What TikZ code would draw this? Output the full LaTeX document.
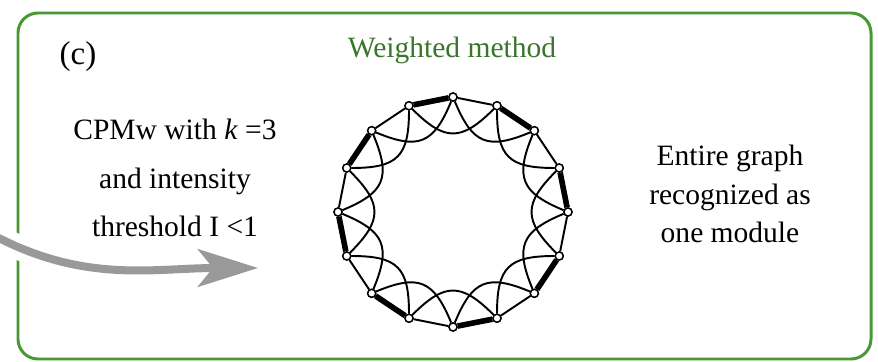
\documentclass[tikz,border=0pt]{standalone}
\usepackage{fontspec}
\setmainfont{Liberation Serif}
\usetikzlibrary{arrows.meta}
\definecolor{framegreen}{RGB}{72,152,52}
\definecolor{titlegreen}{RGB}{58,118,42}

\begin{document}
\begin{tikzpicture}[x=1cm,y=1cm]
  \tikzset{graphvertex/.style={circle,fill=white,draw=black,line width=0.8pt,inner sep=0pt,minimum size=0.16cm}}
  \tikzset{graphedge/.style={draw=black,line width=1.1pt}}
  \tikzset{heavyedge/.style={draw=black,line width=3.2pt}}
  \tikzset{arcedge/.style={draw=black,line width=1.1pt,bend right=45,looseness=1.45}}
  \tikzset{caption/.style={font=\fontsize{16.8}{20}\selectfont,inner sep=0pt,align=center}}

  \useasboundingbox (-9.06,-2.98) rectangle (8.50,4.24);
  \draw[framegreen,line width=1.7pt,rounded corners=0.4cm] (-8.70,-2.94) rectangle (8.36,3.98);

  % texts
  \node[caption,font=\fontsize{18.8}{22}\selectfont] (panel) at (-7.5,3.1) {(c)};
  \node[caption,text=titlegreen] (title) at (-0.02,3.24) {Weighted method};
  \node[caption,font=\fontsize{16.8}{27.8}\selectfont] (cpmw) at (-5.56,0.68) {CPMw with \textit{k} =3\\and intensity\\threshold I <1};
  \node[caption,font=\fontsize{16.8}{22.1}\selectfont] (result) at (5.54,0.36) {Entire graph\\recognized as\\one module};

  % arrow coming in from the left
  \coordinate (src) at (-9.2,-0.46);
  \coordinate (tip) at (-3.9,-1.12);
  \begin{scope}
    \clip (-9.06,-2.98) rectangle (-7.6,4.24);
    \draw[white,line width=0.5cm] (src) to[out=-28,in=180] (tip);
  \end{scope}
  \draw[gray!80,line width=0.16cm,-{Stealth[length=1.2cm,width=0.75cm,inset=0.3cm]}] (src) to[out=-28,in=180] (tip);

  % ring of sixteen vertices
  \node[graphvertex] (v1) at (90:2.3) {};
  \node[graphvertex] (v2) at (67.5:2.3) {};
  \node[graphvertex] (v3) at (45:2.3) {};
  \node[graphvertex] (v4) at (22.5:2.3) {};
  \node[graphvertex] (v5) at (0:2.3) {};
  \node[graphvertex] (v6) at (-22.5:2.3) {};
  \node[graphvertex] (v7) at (-45:2.3) {};
  \node[graphvertex] (v8) at (-67.5:2.3) {};
  \node[graphvertex] (v9) at (-90:2.3) {};
  \node[graphvertex] (v10) at (-112.5:2.3) {};
  \node[graphvertex] (v11) at (-135:2.3) {};
  \node[graphvertex] (v12) at (-157.5:2.3) {};
  \node[graphvertex] (v13) at (180:2.3) {};
  \node[graphvertex] (v14) at (157.5:2.3) {};
  \node[graphvertex] (v15) at (135:2.3) {};
  \node[graphvertex] (v16) at (112.5:2.3) {};

  % second neighbours, bent inwards
  \draw[arcedge] (v1) to (v3);
  \draw[arcedge] (v2) to (v4);
  \draw[arcedge] (v3) to (v5);
  \draw[arcedge] (v4) to (v6);
  \draw[arcedge] (v5) to (v7);
  \draw[arcedge] (v6) to (v8);
  \draw[arcedge] (v7) to (v9);
  \draw[arcedge] (v8) to (v10);
  \draw[arcedge] (v9) to (v11);
  \draw[arcedge] (v10) to (v12);
  \draw[arcedge] (v11) to (v13);
  \draw[arcedge] (v12) to (v14);
  \draw[arcedge] (v13) to (v15);
  \draw[arcedge] (v14) to (v16);
  \draw[arcedge] (v15) to (v1);
  \draw[arcedge] (v16) to (v2);

  % outer cycle
  \draw[heavyedge] (v16) -- (v1);
  \draw[graphedge] (v1) -- (v2);
  \draw[heavyedge] (v2) -- (v3);
  \draw[graphedge] (v3) -- (v4);
  \draw[heavyedge] (v4) -- (v5);
  \draw[graphedge] (v5) -- (v6);
  \draw[heavyedge] (v6) -- (v7);
  \draw[graphedge] (v7) -- (v8);
  \draw[heavyedge] (v8) -- (v9);
  \draw[graphedge] (v9) -- (v10);
  \draw[heavyedge] (v10) -- (v11);
  \draw[graphedge] (v11) -- (v12);
  \draw[heavyedge] (v12) -- (v13);
  \draw[graphedge] (v13) -- (v14);
  \draw[heavyedge] (v14) -- (v15);
  \draw[graphedge] (v15) -- (v16);

  % redraw vertices on top of the edges
  \foreach \v in {v1,v2,v3,v4,v5,v6,v7,v8,v9,v10,v11,v12,v13,v14,v15,v16}
    \node[graphvertex] at (\v) {};
\end{tikzpicture}
\end{document}
